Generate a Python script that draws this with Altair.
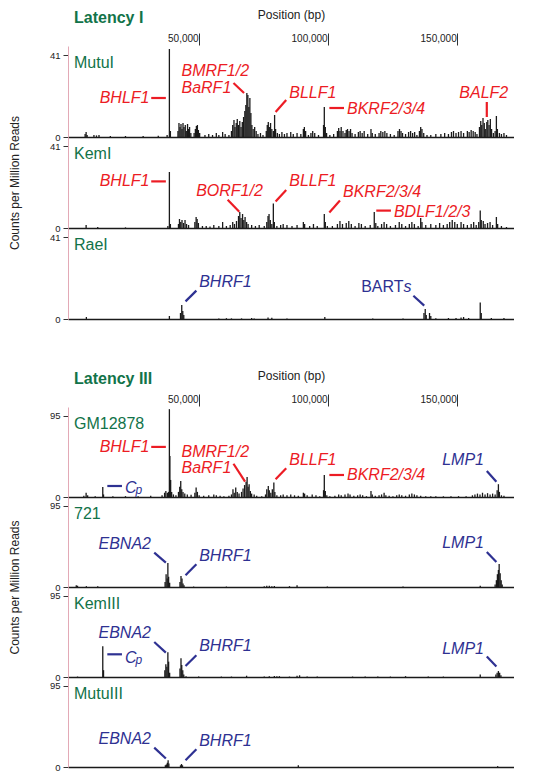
import altair as alt
import pandas as pd

FONT = "Liberation Sans"
RED = "#ec1c24"
BLUE = "#2e3192"
GREEN = "#127349"
INK = "#1a1a1a"
PINK = "#e3a9b6"

# x domain (bp)
X_MIN, X_MAX = -800, 172000
POS_TICKS = [50000, 100000, 150000]

# coverage spikes: (position in kb, counts per million reads)
MUTU_I = [(4.0, 1.5), (4.4, 2.5), (4.8, 1), (7.5, 1), (8.5, 0.8), (9.5, 1), (14, 0.5), (20, 0.5), (27, 0.5),
          (33, 0.6), (36.5, 1), (37.4, 44), (37.8, 3),
          (40.8, 3), (41.2, 7), (41.6, 5), (42.0, 6.5), (42.4, 4), (42.8, 7), (43.2, 5), (43.7, 6), (44.1, 3),
          (44.6, 6.5), (45.0, 4), (45.4, 5), (45.9, 2), (47.2, 2), (47.7, 4), (48.1, 5.5), (48.5, 6), (48.9, 3.5),
          (49.4, 2), (51.5, 1), (53, 1.5), (54.5, 1), (56, 2), (57, 1), (58.5, 2.5), (59.5, 1.5), (61, 1),
          (62, 3), (62.5, 6), (63, 8.5), (63.4, 5), (63.9, 7), (64.3, 9), (64.8, 6), (65.3, 8), (65.8, 5),
          (66.3, 7.5), (66.8, 10), (67.3, 13), (67.7, 16), (68.1, 22), (68.5, 21), (68.9, 15), (69.3, 19.5),
          (69.7, 12), (70.1, 6), (70.6, 4), (71.2, 5), (71.8, 3), (72.5, 1.5), (73.5, 2), (74.5, 1),
          (75.8, 3), (76.2, 6), (76.6, 7.5), (77.0, 5), (77.5, 7), (78.0, 4), (78.6, 3), (79.1, 11), (79.5, 4),
          (80.2, 2), (81, 1.5), (82, 2.5), (83, 1.5), (84, 2), (85.5, 2.5), (86.5, 1.5), (88, 2), (89.5, 1.5),
          (90.5, 4), (90.9, 5), (91.4, 3), (92.5, 1), (93.5, 2), (94.2, 3), (95, 2), (96.5, 1),
          (98.5, 6), (98.8, 15), (99.2, 5), (99.7, 2), (101, 1), (102.5, 1.5), (104, 3), (104.5, 4.5), (105, 3),
          (105.5, 5), (106.2, 3), (107, 2), (107.5, 3.5), (108, 4), (108.6, 3), (109.2, 4), (109.8, 2),
          (111, 1.5), (112.3, 2.5), (113, 3), (113.8, 2), (114.6, 3), (116, 1.5), (117.3, 4), (117.8, 2),
          (119, 1.5), (120.5, 2), (121.2, 3), (122, 2.5), (122.8, 3), (123.6, 2), (125, 1.5), (126.5, 1),
          (128, 3), (128.6, 4), (129.2, 3), (129.8, 2), (131, 1.5), (132.2, 2.5), (133, 3), (133.8, 2),
          (134.6, 2.5), (135.5, 1), (136.5, 3), (137, 5), (137.5, 4), (138.2, 2), (139.5, 1), (141, 1),
          (143, 1.5), (145, 1.5), (146.5, 2), (148, 1.5), (149.2, 2.5), (150, 3), (151, 2), (152, 2.5),
          (153, 3), (154, 2), (155.5, 3), (156.2, 2.5), (157, 3.5), (157.8, 3), (158.6, 2.5), (159.3, 1.5),
          (160.3, 5), (160.8, 8), (161.2, 6), (161.7, 9.5), (162.2, 7), (162.6, 4), (163.2, 7.5), (163.6, 8.5),
          (164.1, 6), (164.6, 9), (165.1, 4), (165.8, 2), (166.5, 3), (167, 10.5), (167.4, 4), (168.2, 2),
          (169, 1.5), (170, 2), (171, 1)]

KEM_I = [(4.4, 1.5), (9, 0.5), (20, 0.3), (36.8, 1), (37.4, 28), (37.8, 2),
         (41, 2), (41.4, 4.5), (41.9, 3), (42.4, 4), (43, 2.5), (43.6, 4), (44.2, 2), (45, 1.5), (47.5, 3),
         (48, 5.5), (48.4, 4.5), (48.9, 2.5), (50.5, 1), (52, 1), (53.5, 0.8), (55, 1.5), (57, 1), (58.5, 3),
         (60, 1), (61.5, 1.5), (62.5, 3), (63.2, 2), (64, 3.5), (64.8, 6), (65.3, 8), (65.8, 5), (66.4, 7),
         (66.9, 4), (67.4, 5.5), (68, 3), (68.6, 2), (70, 1.5), (71.5, 1), (73, 1.5), (75, 1), (76, 3),
         (76.5, 6), (76.9, 7), (77.4, 4), (78, 2), (78.6, 12.3), (79, 3), (80, 1), (81.5, 1.5), (82.5, 2),
         (84, 1.5), (86, 1), (88, 1.5), (90.5, 3), (91, 2), (93, 1), (94.5, 2), (96, 1), (98.8, 7), (99.2, 3),
         (100, 1), (102, 1), (104, 2), (105, 3.5), (106, 2), (107.5, 2.5), (108.5, 3.5), (109.5, 2), (111, 1),
         (112.5, 2.5), (113.5, 2), (115, 1), (117, 1.5), (118.6, 8), (119.2, 2.5), (120, 1), (121.5, 2),
         (122.5, 3), (123.5, 2), (125, 1), (127, 1.5), (128.5, 3), (129.5, 2), (131, 1), (132.5, 2),
         (133.5, 3), (134.5, 2), (136, 1), (137, 5), (137.5, 3), (139, 1.5), (141, 2), (143, 1.5),
         (144.5, 2.5), (146, 1.5), (147.5, 2), (148.5, 3), (149.5, 4), (150.5, 3), (151.5, 2), (153, 3),
         (154, 2), (155.5, 1.5), (157, 2), (158, 3), (159, 1.5), (160, 3), (160.6, 8.7), (161, 4),
         (161.8, 3.5), (162.5, 2), (163.5, 2.5), (164.5, 3), (165.5, 1.5), (167, 5.5), (167.5, 2),
         (169, 1), (171, 0.5)]

RAE_I = [(4.5, 1), (37.4, 1.5), (41.8, 3), (42.3, 7), (42.7, 4), (43.1, 2), (57, 0.3), (60, 0.4), (62, 0.3),
         (66, 0.3), (70, 0.5), (71, 0.3), (76.5, 0.8), (78, 0.6), (84, 0.3), (99, 1), (118, 0.3), (130, 0.3),
         (138.3, 3), (138.8, 5), (139.2, 2), (140.5, 3), (141, 1.5), (143, 0.4), (148, 0.5), (151, 0.5),
         (153, 0.8), (154, 1), (156, 0.5), (160.6, 8.3), (161, 3), (165, 0.5), (170, 0.5)]

GM12878 = [(3.5, 1.5), (4.4, 5), (5, 2), (8, 1), (11, 11.7), (11.3, 3), (15, 1), (20, 1), (25, 1), (30, 1.5),
           (34.5, 2), (35.5, 5), (36, 7), (36.6, 5), (37.1, 6), (37.4, 103), (37.6, 48), (37.9, 20), (38.3, 6),
           (39, 3), (40, 2), (41, 6), (41.5, 12), (41.9, 18.8), (42.3, 9), (42.8, 6), (43.5, 4), (44.5, 3),
           (46, 2.5), (47.5, 5), (48, 11), (48.5, 6), (49.2, 2), (51, 1.5), (53, 2), (55, 3), (56, 2),
           (57.5, 1.5), (59, 1), (61, 1.5), (62, 3), (62.6, 9), (63.1, 5), (63.7, 11), (64.3, 6), (65, 4),
           (66, 6), (66.6, 10), (67.2, 14), (67.8, 18), (68.2, 23.5), (68.6, 12), (69, 15), (69.5, 7), (70, 4),
           (71, 3), (72, 1.5), (74, 1), (75.5, 3), (76, 9), (76.6, 13), (77, 8), (77.6, 5), (78.2, 9),
           (78.8, 17), (79.2, 6), (80, 2), (81.5, 2), (82.5, 3), (84, 2), (85.5, 3), (87, 2), (88.5, 1.5),
           (90.5, 5), (91, 4), (92, 2), (94, 3), (95.5, 2), (97, 1), (98.5, 8), (98.8, 25.8), (99.2, 7),
           (99.8, 2), (101, 1), (103, 1.5), (104.5, 3), (105.5, 2), (107, 3), (108.2, 4), (109, 3),
           (110.5, 1.5), (112, 2), (113, 3), (114, 2), (115.5, 1), (117.3, 7), (117.8, 3), (119, 1.5),
           (120.5, 2), (121.5, 3), (122.5, 5), (123.2, 2), (124.5, 1.5), (126, 1), (127.5, 2), (128.5, 3),
           (129.5, 2), (131, 1.5), (132.5, 3), (133.5, 4), (134.5, 3), (135.5, 2), (137, 1.5), (139, 1),
           (141, 1), (143, 1), (146, 0.8), (149, 1), (152, 1), (155, 1), (157.5, 2), (158.5, 3), (159.5, 4),
           (160.5, 3), (161.5, 5), (162.5, 3), (163.5, 4.5), (164.5, 3), (165.5, 4), (166.5, 3), (167.3, 8),
           (167.8, 15), (168.2, 6), (169, 2), (170, 1.5)]

C721 = [(0.5, 2), (1, 1.5), (4.5, 1), (9, 1), (35.7, 6), (36.1, 15), (36.5, 10), (36.8, 28), (37.1, 12),
        (37.5, 5), (41.6, 6), (42, 13), (42.4, 10), (42.8, 4), (43.2, 2), (47, 0.5), (60, 0.5), (75, 1),
        (76, 1.5), (77, 1.5), (78, 1), (79, 1.2), (85, 1), (88, 2), (100, 0.5), (130, 0.5), (160.6, 1.5),
        (166.5, 3), (167, 8), (167.4, 15), (167.8, 20), (168.1, 27), (168.5, 16), (168.9, 8), (169.3, 3)]

KEM_III = [(1, 0.5), (11, 36), (11.3, 8), (35.6, 8), (36, 15), (36.4, 12), (36.8, 29), (37.1, 18), (37.5, 5),
           (41.6, 10), (42, 22), (42.3, 14), (42.7, 8), (43.1, 3), (44, 1), (49, 0.5), (58, 0.5), (62, 0.5),
           (68, 1.5), (75, 0.5), (77, 0.8), (79, 1.2), (80, 1), (81, 1), (85, 0.5), (88, 1.5), (89, 2),
           (92, 0.5), (96, 0.5), (110, 0.5), (115, 0.5), (120, 0.5), (125, 0.5), (131, 1), (140, 0.5),
           (146, 0.5), (160.6, 3), (166.8, 3), (167.3, 5), (167.8, 7), (168.3, 5), (168.8, 2)]

MUTU_III = [(35.8, 2), (36.2, 3), (36.6, 5), (36.9, 8), (37.2, 4), (41.8, 2), (42.2, 3.5), (42.6, 2),
            (88.5, 2), (167.5, 1)]

# gene labels: (track, text, position kb, value, anchor side, gene class, style)
LABELS = [
    ("MutuI", "BHLF1", 29.5, 19.5, "right", "lytic", "italic"),
    ("MutuI", "BMRF1/2", 42.2, 33, "left", "lytic", "italic"),
    ("MutuI", "BaRF1", 42.2, 24.5, "left", "lytic", "italic"),
    ("MutuI", "BLLF1", 84.9, 22, "left", "lytic", "italic"),
    ("MutuI", "BKRF2/3/4", 107.8, 14, "left", "lytic", "italic"),
    ("MutuI", "BALF2", 162.0, 22, "center", "lytic", "italic"),
    ("KemI", "BHLF1", 29.5, 23.3, "right", "lytic", "italic"),
    ("KemI", "BORF1/2", 48.0, 18.6, "left", "lytic", "italic"),
    ("KemI", "BLLF1", 84.9, 23.6, "left", "lytic", "italic"),
    ("KemI", "BKRF2/3/4", 106.2, 17.8, "left", "lytic", "italic"),
    ("KemI", "BDLF1/2/3", 126.4, 8.2, "left", "lytic", "italic"),
    ("RaeI", "BHRF1", 49.2, 18.3, "left", "latent", "italic"),
    ("RaeI", "BART", 130.2, 15.8, "right", "latent", "normal"),
    ("RaeI", "s", 130.2, 15.8, "left", "latent", "italic"),
    ("GM12878", "BHLF1", 29.5, 58.7, "right", "lytic", "italic"),
    ("GM12878", "BMRF1/2", 42.2, 53, "left", "lytic", "italic"),
    ("GM12878", "BaRF1", 42.2, 33.6, "left", "lytic", "italic"),
    ("GM12878", "BLLF1", 84.9, 43.4, "left", "lytic", "italic"),
    ("GM12878", "BKRF2/3/4", 107.8, 25.4, "left", "lytic", "italic"),
    ("GM12878", "LMP1", 162.1, 43.4, "right", "latent", "italic"),
    ("GM12878", "C", 19.8, 10.9, "left", "latent", "italic"),
    ("721", "EBNA2", 30.1, 50, "right", "latent", "italic"),
    ("721", "BHRF1", 49.2, 36.4, "left", "latent", "italic"),
    ("721", "LMP1", 162.1, 51.3, "right", "latent", "italic"),
    ("KemIII", "EBNA2", 30.1, 52, "right", "latent", "italic"),
    ("KemIII", "C", 19.8, 22.7, "left", "latent", "italic"),
    ("KemIII", "BHRF1", 49.2, 36.4, "left", "latent", "italic"),
    ("KemIII", "LMP1", 162.1, 33.3, "right", "latent", "italic"),
    ("MutuIII", "EBNA2", 30.1, 32.5, "right", "latent", "italic"),
    ("MutuIII", "BHRF1", 49.2, 30.5, "left", "latent", "italic"),
]

# subscripts (the p of Cp): (track, text, position kb, value, class)
SUBSCRIPTS = [
    ("GM12878", "p", 24.0, 8.0, "latent"),
    ("KemIII", "p", 24.0, 19.5, "latent"),
]

# leader lines: (track, x1 kb, y1, x2 kb, y2, class)
LEADERS = [
    ("MutuI", 30.2, 19.5, 36.0, 19.5, "lytic"),
    ("MutuI", 62.8, 27, 67.0, 22, "lytic"),
    ("MutuI", 83.7, 18.5, 79.5, 12.5, "lytic"),
    ("MutuI", 100.8, 14.5, 106.6, 14.5, "lytic"),
    ("MutuI", 163.2, 17.5, 163.2, 10, "lytic"),
    ("KemI", 30.2, 23.3, 36.0, 23.3, "lytic"),
    ("KemI", 60.5, 14.1, 65.1, 8.1, "lytic"),
    ("KemI", 83.7, 19, 79.5, 13.3, "lytic"),
    ("KemI", 105.0, 13.7, 100.8, 7.8, "lytic"),
    ("KemI", 119.4, 8.7, 125.2, 8.7, "lytic"),
    ("RaeI", 48.1, 14.2, 43.8, 8.8, "latent"),
    ("RaeI", 134.1, 11.6, 138.4, 6.7, "latent"),
    ("GM12878", 30.2, 58.7, 36.0, 58.7, "lytic"),
    ("GM12878", 62.8, 39, 67.4, 18, "lytic"),
    ("GM12878", 83.7, 33.6, 79.5, 20.7, "lytic"),
    ("GM12878", 100.8, 25.8, 106.6, 25.8, "lytic"),
    ("GM12878", 163.2, 30.5, 167.0, 18, "latent"),
    ("GM12878", 12.8, 12.9, 18.6, 12.9, "latent"),
    ("721", 31.4, 40.2, 36.0, 28.5, "latent"),
    ("721", 48.1, 26.6, 43.8, 13.7, "latent"),
    ("721", 163.2, 41, 167.0, 29.3, "latent"),
    ("KemIII", 31.4, 41, 36.0, 28.6, "latent"),
    ("KemIII", 12.8, 26.6, 18.6, 26.6, "latent"),
    ("KemIII", 48.1, 25.5, 43.8, 12.9, "latent"),
    ("KemIII", 163.2, 23.9, 167.0, 12.2, "latent"),
    ("MutuIII", 31.4, 22.7, 36.0, 9.9, "latent"),
    ("MutuIII", 48.1, 20.8, 43.8, 7.9, "latent"),
]

GROUPS = [
    ("Latency I", 41, 45.5, 91, [("MutuI", MUTU_I), ("KemI", KEM_I), ("RaeI", RAE_I)]),
    ("Latency III", 95, 105.5, 90, [("GM12878", GM12878), ("721", C721), ("KemIII", KEM_III), ("MutuIII", MUTU_III)]),
]

CLASS_SCALE = alt.Scale(domain=["lytic", "latent"], range=[RED, BLUE])
XS = alt.Scale(domain=[X_MIN, X_MAX], nice=False, zero=False)

TOP_AXIS = alt.Axis(orient="top", values=POS_TICKS, format=",d", tickSize=12, labelPadding=-10,
                    labelAlign="right", labelOffset=-1, domain=False, grid=False, tickColor="#333",
                    tickWidth=1, labelFontSize=10, labelFont=FONT, labelColor="#222",
                    title="Position (bp)", titleFont=FONT, titleFontSize=12, titleFontWeight="normal",
                    titleColor="#222", titlePadding=11)
BOTTOM_AXIS = alt.Axis(orient="bottom", labels=False, ticks=False, grid=False, domain=True,
                       domainColor=INK, domainWidth=1.4, title=None)


def position_axis():
    df = pd.DataFrame({"pos": POS_TICKS})
    return alt.Chart(df).mark_point(opacity=0).encode(
        x=alt.X("pos:Q", scale=XS, axis=TOP_AXIS)
    ).properties(width=446, height=1)


def spacer(h):
    df = pd.DataFrame({"pos": [0]})
    return alt.Chart(df).mark_point(opacity=0).encode(
        x=alt.value(0), y=alt.value(0)
    ).properties(width=446, height=h)


def track(name, cov, ytick, ymax, h, group_title, ytitle_mode):
    ys = alt.Scale(domain=[0, ymax], nice=False)
    yax = dict(values=[0, ytick], tickSize=5, labelPadding=3, grid=False, domainColor=PINK,
               tickColor="#333", labelColor="#222", labelFontSize=9.5, labelFont=FONT, title=None)
    if ytitle_mode is not None:
        yax.update(title="Counts per Million Reads", titleFontSize=12, titleFontWeight="normal",
                   titlePadding=28, titleColor="#222", titleFont=FONT)
        if ytitle_mode == "bottom":
            yax["titleY"] = h
    y_axis = alt.Axis(**yax)

    def X(field):
        return alt.X(field, scale=XS, axis=BOTTOM_AXIS)

    def Y(field):
        return alt.Y(field, scale=ys, axis=y_axis)

    cov_df = pd.DataFrame({"pos": [p * 1000 for p, _ in cov], "val": [v for _, v in cov]})
    spikes = alt.Chart(cov_df).mark_bar(color=INK, width=1.3).encode(x=X("pos:Q"), y=Y("val:Q"))
    layers = [spikes]

    ld = [r for r in LEADERS if r[0] == name]
    ld_df = pd.DataFrame({"pos": [r[1] * 1000 for r in ld], "val": [r[2] for r in ld],
                          "pos2": [r[3] * 1000 for r in ld], "val2": [r[4] for r in ld],
                          "cls": [r[5] for r in ld]})
    layers.append(alt.Chart(ld_df).mark_rule(strokeWidth=2.2).encode(
        x=X("pos:Q"), x2="pos2:Q", y=Y("val:Q"), y2="val2:Q",
        color=alt.Color("cls:N", scale=CLASS_SCALE, legend=None),
    ))

    lb = [r for r in LABELS if r[0] == name]
    for side in ["left", "right", "center"]:
        for style in ["italic", "normal"]:
            rows = [r for r in lb if r[4] == side and r[6] == style]
            if not rows:
                continue
            df = pd.DataFrame({"t": [r[1] for r in rows], "pos": [r[2] * 1000 for r in rows],
                               "val": [r[3] for r in rows], "cls": [r[5] for r in rows]})
            layers.append(alt.Chart(df).mark_text(align=side, baseline="middle", fontSize=16, font=FONT,
                                                  fontStyle=style).encode(
                x=X("pos:Q"), y=Y("val:Q"), text="t:N",
                color=alt.Color("cls:N", scale=CLASS_SCALE, legend=None),
            ))
    sb = [r for r in SUBSCRIPTS if r[0] == name]
    if sb:
        df = pd.DataFrame({"t": [r[1] for r in sb], "pos": [r[2] * 1000 for r in sb],
                           "val": [r[3] for r in sb], "cls": [r[4] for r in sb]})
        layers.append(alt.Chart(df).mark_text(align="left", baseline="middle", fontSize=12, font=FONT,
                                              fontStyle="italic").encode(
            x=X("pos:Q"), y=Y("val:Q"), text="t:N",
            color=alt.Color("cls:N", scale=CLASS_SCALE, legend=None),
        ))

    name_df = pd.DataFrame({"t": [name]})
    layers.append(alt.Chart(name_df).mark_text(align="left", baseline="middle", fontSize=16, font=FONT,
                                               color=GREEN).encode(
        x=alt.value(6), y=alt.value(17), text="t:N"))
    if group_title:
        gt_df = pd.DataFrame({"t": [group_title]})
        layers.append(alt.Chart(gt_df).mark_text(align="left", baseline="middle", fontSize=16, font=FONT,
                                                 fontWeight="bold", color=GREEN).encode(
            x=alt.value(6), y=alt.value(-28), text="t:N"))
    return alt.layer(*layers).properties(width=446, height=h)


panels = []
for gi, (gtitle, ytick, ymax, h, tracks) in enumerate(GROUPS):
    if gi > 0:
        panels.append(spacer(87))
    panels.append(position_axis())
    n = len(tracks)
    for i, (name, cov) in enumerate(tracks):
        if n % 2 == 1:
            mode = "center" if i == n // 2 else None
        else:
            mode = "bottom" if i == n // 2 - 1 else None
        panels.append(track(name, cov, ytick, ymax, h, gtitle if i == 0 else None, mode))

chart = alt.vconcat(*panels, spacing=0, bounds="flush").properties(padding=0).configure_view(stroke=None)
chart.save("out.html", embed_options={"renderer": "svg", "actions": False})
